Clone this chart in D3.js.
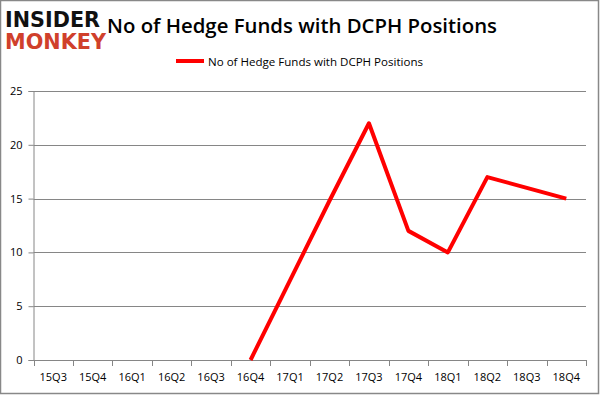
<!DOCTYPE html>
<html><head><meta charset="utf-8">
<script src="https://cdn.jsdelivr.net/npm/d3@7"></script>
<style>body{margin:0;background:#fff}svg{display:block}</style>
</head><body>
<script>
const categories = ["15Q3","15Q4","16Q1","16Q2","16Q3","16Q4","17Q1","17Q2","17Q3","17Q4","18Q1","18Q2","18Q3","18Q4"];
const values = [null,null,null,null,null,0,7.4,14.8,22,12,10,17,16,15];
const yTicks = [0,5,10,15,20,25];
const seriesName = "No of Hedge Funds with DCPH Positions";
const titleText = "No of Hedge Funds with DCPH Positions";

(function(){
const W = 601, H = 396;
const svg = d3.select("body").append("svg").attr("width", W).attr("height", H);
svg.append("rect").attr("x",0.5).attr("y",0.5).attr("width",598).attr("height",393)
  .attr("fill","#fff").attr("stroke","#888").attr("stroke-width",1.5);

const pLeft = 33.5, pRight = 586, pTop = 91, pBottom = 360;
const x = d3.scaleBand().domain(categories).range([pLeft, pRight]);
const y = d3.scaleLinear().domain([0,25]).range([pBottom, pTop]);

// gridlines
svg.append("g").selectAll("line").data(yTicks.filter(d=>d>0)).join("line")
  .attr("x1", pLeft).attr("x2", pRight)
  .attr("y1", d=>Math.round(y(d))+0.5).attr("y2", d=>Math.round(y(d))+0.5)
  .attr("stroke","#868686").attr("stroke-width",1);

// y axis
const yAxis = svg.append("g").attr("transform",`translate(${pLeft},0)`)
  .call(d3.axisLeft(y).tickValues(yTicks).tickSize(5).tickPadding(6).tickFormat(d3.format("d")));
yAxis.select(".domain").attr("stroke","#868686");
yAxis.selectAll(".tick line").attr("stroke","#868686");
yAxis.selectAll("text").attr("font-family","'Open Sans', sans-serif").attr("font-size",11).attr("fill","#000");

// x axis
const xAxis = svg.append("g").attr("transform",`translate(0,${pBottom})`)
  .call(d3.axisBottom(x).tickSize(0).tickPadding(13));
xAxis.select(".domain").attr("stroke","#868686");
xAxis.selectAll("text").attr("font-family","'Open Sans', sans-serif").attr("font-size",11).attr("fill","#000");
const bounds = categories.map((c)=>x(c)).concat([pRight]);
svg.append("g").selectAll("line").data(bounds).join("line")
  .attr("x1", d=>Math.round(d)+0.5).attr("x2", d=>Math.round(d)+0.5)
  .attr("y1", pBottom).attr("y2", pBottom+6).attr("stroke","#868686");

// line
const line = d3.line().defined(d=>d.v!==null)
  .x(d=>x(d.c)+x.bandwidth()/2).y(d=>y(d.v));
svg.append("path").datum(categories.map((c,i)=>({c, v: values[i]})))
  .attr("d", line).attr("fill","none").attr("stroke","#ff0000").attr("stroke-width",4)
  .attr("stroke-linejoin","round");

// title
svg.append("text").attr("x",302).attr("y",33).attr("text-anchor","middle")
  .attr("font-family","'Open Sans', sans-serif").attr("font-weight",600).attr("font-size",20)
  .attr("textLength",390).attr("lengthAdjust","spacingAndGlyphs")
  .attr("fill","#000").text(titleText);

// legend
svg.append("line").attr("x1",176).attr("x2",204).attr("y1",61).attr("y2",61)
  .attr("stroke","#ff0000").attr("stroke-width",4);
svg.append("text").attr("x",208).attr("y",65.5)
  .attr("font-family","'Open Sans', sans-serif").attr("font-size",11)
  .attr("textLength",215).attr("lengthAdjust","spacingAndGlyphs")
  .attr("fill","#000").text(seriesName);

// logo
svg.append("text").attr("x",5).attr("y",27).attr("font-family","'DejaVu Sans', sans-serif")
  .attr("font-weight","bold").attr("font-size",21).attr("textLength",95).attr("lengthAdjust","spacingAndGlyphs")
  .attr("fill","#111").text("INSIDER");
svg.append("text").attr("x",5).attr("y",49).attr("font-family","'DejaVu Sans', sans-serif")
  .attr("font-weight","bold").attr("font-size",21).attr("textLength",101).attr("lengthAdjust","spacingAndGlyphs")
  .attr("fill","#d0402b").text("MONKEY");
})();
</script>
</body></html>
